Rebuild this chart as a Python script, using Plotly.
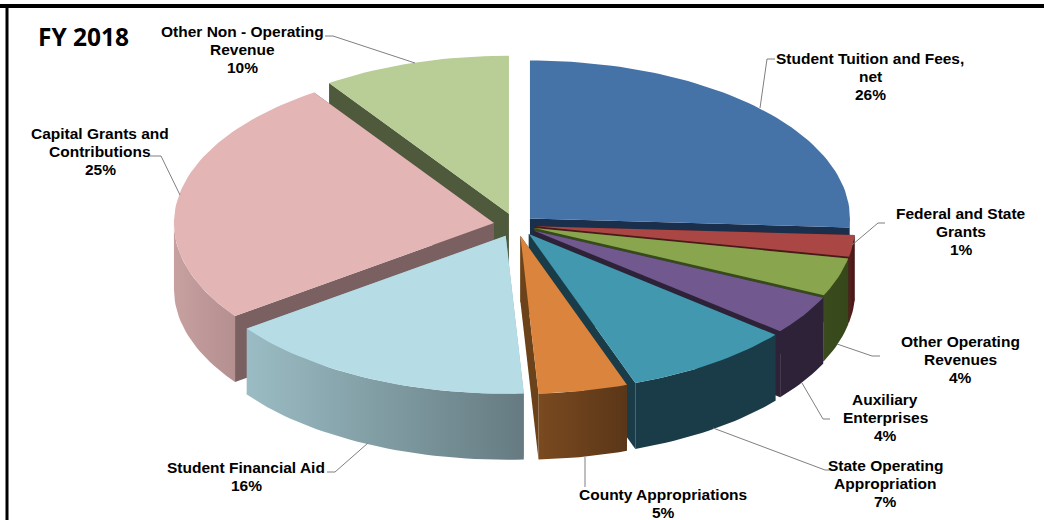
import math
import plotly.graph_objects as go

# Data
categories = ["Other Non - Operating Revenue", "Student Tuition and Fees, net", "Capital Grants and Contributions",
              "Federal and State Grants", "Other Operating Revenues", "Auxiliary Enterprises",
              "State Operating Appropriation", "County Appropriations", "Student Financial Aid"]
printed_percent = [10, 26, 25, 1, 4, 4, 7, 5, 16]
# slice sizes as actually drawn (the printed labels are rounded and do not always match the slices)
drawn_share = {"Student Tuition and Fees, net": 25.9, "Federal and State Grants": 2.2,
               "Other Operating Revenues": 3.9, "Auxiliary Enterprises": 4.0,
               "State Operating Appropriation": 8.6, "County Appropriations": 4.5,
               "Student Financial Aid": 15.9, "Capital Grants and Contributions": 25.5,
               "Other Non - Operating Revenue": 9.5}
clock_order = ["Student Tuition and Fees, net", "Federal and State Grants", "Other Operating Revenues",
               "Auxiliary Enterprises", "State Operating Appropriation", "County Appropriations",
               "Student Financial Aid", "Capital Grants and Contributions", "Other Non - Operating Revenue"]
explode = [0.075, 0.06, 0.07, 0.06, 0.06, 0.065, 0.07, 0.07, 0.075]
top_colors = ["#b9cd96", "#4572a7", "#e4b5b5", "#aa4643", "#89a54e", "#71588f", "#4198af", "#db843d", "#b6dde5"]
cut_colors = ["#4f5a3c", "#1a2f4b", "#7a6060", "#4a1a1a", "#374a1c", "#2d2238", "#1a3c49", "#6b4219", "#8fb0b8"]
wall_left = ["#7c8a64", "#2e4c70", "#c7a0a0", "#5a1f1e", "#3a4c1e", "#2d2238", "#1a3c49", "#7a4a20", "#9bbcc4"]
wall_right = ["#7c8a64", "#2e4c70", "#b59090", "#451615", "#364819", "#2d2238", "#1a3c49", "#5a3618", "#657b81"]
label_lines = [["Other Non - Operating", "Revenue"], ["Student Tuition and Fees,", "net"], ["Capital Grants and", "Contributions"],
               ["Federal and State", "Grants"], ["Other Operating", "Revenues"], ["Auxiliary", "Enterprises"],
               ["State Operating", "Appropriation"], ["County Appropriations"], ["Student Financial Aid"]]
label_x = [242, 870, 100, 961, 960, 885, 885, 663, 246]
label_top_y = [31, 58, 133, 213, 341, 399, 465, 494, 467]
leader_x = [[325, 333, 415], [775, 767, 760], [150, 161, 180], [885, 878, 852], [880, 872, 837],
            [830, 823, 802], [832, 825, 713], [585, 585], [327, 335, 368]]
leader_y = [[36, 36, 63], [59, 59, 108], [156, 156, 195], [223, 223, 245], [356, 356, 344],
            [419, 419, 383], [470, 470, 428], [487, 457], [472, 472, 443]]

CX, CY, RX, RY, DEPTH = 516, 225, 320, 158, 66
LINE_STEP = 18


def arc(cx, cy, t0, t1, dy=0):
    n = max(2, int((t1 - t0) / 1.5) + 2)
    ts = [t0 + (t1 - t0) * i / (n - 1) for i in range(n)]
    return ([cx + RX * math.sin(math.radians(t)) for t in ts],
            [cy - RY * math.cos(math.radians(t)) + dy for t in ts])


def poly(fig, xs, ys, color=None, grad=None):
    kw = dict(fillcolor=color) if grad is None else dict(
        fillgradient=dict(type="horizontal", colorscale=[[0, grad[0]], [1, grad[1]]]))
    fig.add_trace(go.Scatter(x=xs + xs[:1], y=ys + ys[:1], mode="lines", fill="toself",
                             line=dict(width=0), hoverinfo="skip", showlegend=False, **kw))


start = {}
acc = 0.0
for name in clock_order:
    start[name] = acc
    acc += drawn_share[name] * 3.6

fig = go.Figure()
for i, name in enumerate(categories):
    t0, t1 = start[name], start[name] + drawn_share[name] * 3.6
    tm = math.radians((t0 + t1) / 2)
    ax = CX + explode[i] * RX * math.sin(tm)
    ay = CY - explode[i] * RY * math.cos(tm)
    # cut faces
    for t in (t1, t0):
        ex, ey = arc(ax, ay, t, t)
        ex, ey = ex[0], ey[0]
        poly(fig, [ax, ex, ex, ax], [ay, ey, ey + DEPTH, ay + DEPTH], color=cut_colors[i])
    # outer wall (front half of the rim)
    w0, w1 = max(t0, 90), min(t1, 270)
    if w1 > w0:
        xa, ya = arc(ax, ay, w0, w1)
        xb, yb = arc(ax, ay, w0, w1, DEPTH)
        poly(fig, xa + xb[::-1], ya + yb[::-1],
             grad=(wall_left[i], wall_right[i]) if wall_left[i] != wall_right[i] else None,
             color=wall_left[i])
    # top face
    xa, ya = arc(ax, ay, t0, t1)
    poly(fig, [ax] + xa, [ay] + ya, color=top_colors[i])

for lx, ly in zip(leader_x, leader_y):
    fig.add_trace(go.Scatter(x=lx, y=ly, mode="lines", line=dict(color="#7f7f7f", width=1),
                             hoverinfo="skip", showlegend=False))

for i, name in enumerate(categories):
    lines = label_lines[i] + [f"{printed_percent[i]}%"]
    for j, line in enumerate(lines):
        fig.add_annotation(x=label_x[i], y=label_top_y[i] + j * LINE_STEP, text=f"<b>{line}</b>",
                           showarrow=False, xanchor="center", yanchor="middle",
                           font=dict(family="Liberation Sans", size=15.5, color="#000000"))

fig.add_annotation(x=36, y=36, text="<b>FY 2018</b>", showarrow=False, xanchor="left", yanchor="middle",
                   font=dict(family="Open Sans", size=24.5, color="#000000"))

# frame of the slide
fig.add_shape(type="line", x0=0, x1=1044, y0=6, y1=6, line=dict(color="#000000", width=4))
fig.add_shape(type="line", x0=7, x1=7, y0=4, y1=520, line=dict(color="#000000", width=3))

fig.update_layout(width=1044, height=520, margin=dict(l=0, r=0, t=0, b=0), autosize=False,
                  paper_bgcolor="#ffffff", plot_bgcolor="#ffffff", showlegend=False,
                  xaxis=dict(range=[0, 1044], visible=False, fixedrange=True),
                  yaxis=dict(range=[520, 0], visible=False, fixedrange=True))
fig.write_html("out.html", config=dict(displayModeBar=False),
               post_script="document.body.style.margin='0';document.body.style.overflow='hidden';")
